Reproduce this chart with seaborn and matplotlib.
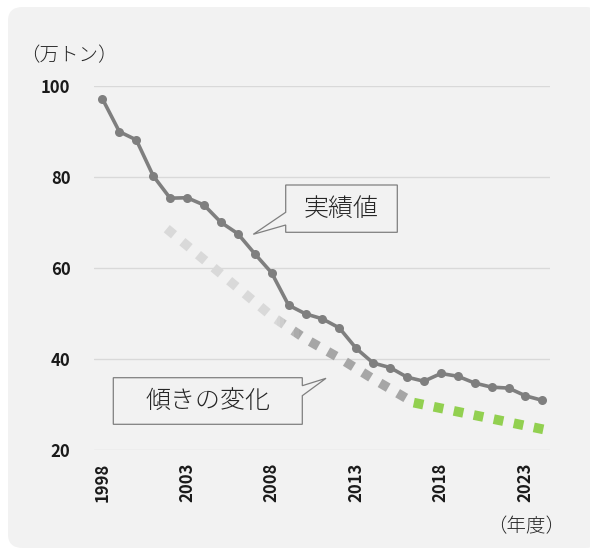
import numpy as np
import pandas as pd
import matplotlib
matplotlib.use("Agg")
import matplotlib.pyplot as plt
import seaborn as sns
from matplotlib.patches import FancyBboxPatch, Polygon, Rectangle
from matplotlib.colors import to_rgb

# ---- data ----
years = list(range(1998, 2025))
values = [97.1, 89.9, 88.1, 80.2, 75.3, 75.4, 73.8, 70.0, 67.5, 63.1,
          58.9, 51.8, 49.9, 48.8, 46.8, 42.3, 39.1, 38.1, 36.0, 35.1,
          36.8, 36.2, 34.7, 33.8, 33.6, 31.9, 30.9]
trend_years = [2001.8, 2004, 2006, 2008, 2010, 2012, 2014, 2016.4]
trend_values = [68.6, 61.8, 55.6, 49.4, 44.4, 40.2, 35.6, 30.4]
future_years = [2016.4, 2024.1]
future_values = [30.4, 24.5]
xtick_years = [1998, 2003, 2008, 2013, 2018, 2023]
ytick_values = [20, 40, 60, 80, 100]
label_actual = "実績値"
label_slope = "傾きの変化"
unit_y = "（万トン）"
unit_x = "（年度）"

W, H = 590, 550
sns.set_theme(style="white")
plt.rcParams['font.family'] = ['Noto Sans CJK JP', 'DejaVu Sans']

fig = plt.figure(figsize=(W / 100, H / 100), dpi=100)
fig.patch.set_facecolor("white")

def fx(px):
    return px / W

def fy(py):
    return 1 - py / H

# rounded background panel
panel = FancyBboxPatch((fx(8), fy(548)), fx(600) - fx(8), fy(7) - fy(548),
                       boxstyle="round,pad=0,rounding_size=0.025",
                       transform=fig.transFigure, facecolor="#f2f2f2",
                       edgecolor="none", zorder=-5)
fig.patches.append(panel)

ax = fig.add_axes([fx(94), fy(450), fx(550) - fx(94), fy(85.7) - fy(450)])
ax.set_facecolor("none")
ax.set_zorder(1)

# gradient dotted trend (clipped bands keep one continuous dot pattern)
light = np.array(to_rgb("#d9d9d9"))
dark = np.array(to_rgb("#a6a6a6"))
edges = [1997.0, 2008.3, 2008.5, 2008.7, 2008.9, 2009.1, 2009.3, 2009.6, 2025.0]
for i in range(len(edges) - 1):
    mid = 0.5 * (edges[i] + edges[i + 1])
    t = np.clip((mid - 2008.3) / (2009.6 - 2008.3), 0, 1)
    col = tuple(light * (1 - t) + dark * t)
    sns.lineplot(x=trend_years, y=trend_values, ax=ax, color=col,
                 linewidth=6.8, estimator=None, sort=False)
    ln = ax.lines[-1]
    ln.set_dashes((1, 1.15))
    ln.set_dash_capstyle("butt")
    ln.set_solid_capstyle("butt")
    rect = Rectangle((edges[i], 0), edges[i + 1] - edges[i], 200,
                     transform=ax.transData)
    ln.set_clip_path(rect)
    ln.set_zorder(2)

sns.lineplot(x=future_years, y=future_values, ax=ax, color="#92d050",
             linewidth=7.0, estimator=None, sort=False)
gl = ax.lines[-1]
gl.set_dashes((1, 1.1))
gl.set_dash_capstyle("butt")
gl.set_zorder(2)

# actual series
sns.lineplot(x=years, y=values, ax=ax, color="#7f7f7f", linewidth=2.6,
             marker="o", markersize=6.5, markeredgewidth=0,
             markerfacecolor="#7f7f7f", estimator=None)
ax.lines[-1].set_zorder(4)

ax.set_xlim(1997.5, 2024.45)
ax.set_ylim(20, 100)
ax.set_yticks(ytick_values)
ax.set_xticks(xtick_years)
ax.set_yticklabels([str(v) for v in ytick_values], fontsize=12, fontweight="bold",
                   color="#1a1a1a")
ax.set_xticklabels([str(v) for v in xtick_years], fontsize=12, fontweight="bold",
                   rotation=90, color="#1a1a1a")
ax.tick_params(axis="y", length=0, pad=17)
ax.tick_params(axis="x", length=0, pad=9)
ax.grid(axis="y", color="#d9d9d9", linewidth=1.0, zorder=0)
ax.set_axisbelow(True)
for s in ax.spines.values():
    s.set_visible(False)
ax.set_xlabel("")
ax.set_ylabel("")

# callouts
def callout(pts, text, tx, ty):
    poly = Polygon([(fx(x), fy(y)) for x, y in pts], closed=True,
                   transform=fig.transFigure, facecolor="#f2f2f2",
                   edgecolor="#7f7f7f", linewidth=0.9, zorder=5)
    fig.patches.append(poly)
    fig.text(fx(tx), fy(ty), text, ha="center", va="center", fontsize=18,
             fontweight="light", color="#262626", zorder=6)

callout([(285.7, 185), (397.3, 185), (397.3, 232.3), (285.7, 232.3),
         (285.7, 225), (253.3, 234.3), (285.7, 212.3)],
        label_actual, 341.5, 208.5)
callout([(113.3, 377.7), (302.3, 377.7), (302.3, 385.7), (326, 378.3),
         (302.3, 395.7), (302.3, 424.3), (113.3, 424.3)],
        label_slope, 207.8, 401)

fig.text(fx(68.5), fy(56), unit_y, ha="center", va="center", fontsize=14,
         fontweight="light", color="#262626")
fig.text(fx(526), fy(527), unit_x, ha="center", va="center", fontsize=14,
         fontweight="light", color="#262626")

fig.savefig("out.png", dpi=100, facecolor="white")
